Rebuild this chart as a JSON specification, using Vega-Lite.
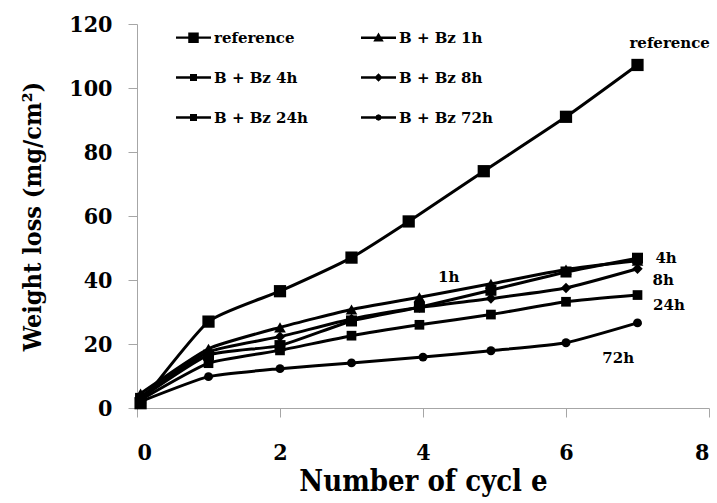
{
  "$schema": "https://vega.github.io/schema/vega-lite/v6.json",
  "autosize": {"type": "none"},
  "width": 572,
  "height": 384,
  "padding": {"left": 137, "top": 24, "right": 8, "bottom": 95},
  "background": "white",
  "config": {
    "view": {"stroke": null},
    "font": "DejaVu Serif",
    "axis": {
      "grid": false,
      "domainColor": "#a6a6a6",
      "tickColor": "#a6a6a6",
      "tickSize": 9,
      "labelFont": "DejaVu Serif Condensed",
      "labelFontWeight": "bold",
      "labelFontSize": 23,
      "labelColor": "black",
      "titleFont": "DejaVu Serif Condensed",
      "titleFontWeight": "bold",
      "titleColor": "black"
    }
  },
  "datasets": {
    "main": [
      {"series": "reference", "cycle": 0.05, "loss": 1.5},
      {"series": "reference", "cycle": 1, "loss": 27},
      {"series": "reference", "cycle": 2, "loss": 36.5},
      {"series": "reference", "cycle": 3, "loss": 47},
      {"series": "reference", "cycle": 3.8, "loss": 58.3},
      {"series": "reference", "cycle": 4.85, "loss": 74},
      {"series": "reference", "cycle": 6, "loss": 91},
      {"series": "reference", "cycle": 7, "loss": 107.2},
      {"series": "B + Bz 1h", "cycle": 0.05, "loss": 4.5},
      {"series": "B + Bz 1h", "cycle": 1, "loss": 18.5},
      {"series": "B + Bz 1h", "cycle": 2, "loss": 25.2},
      {"series": "B + Bz 1h", "cycle": 3, "loss": 30.8},
      {"series": "B + Bz 1h", "cycle": 3.95, "loss": 34.6},
      {"series": "B + Bz 1h", "cycle": 4.95, "loss": 38.8},
      {"series": "B + Bz 1h", "cycle": 6, "loss": 43.3},
      {"series": "B + Bz 1h", "cycle": 7, "loss": 46},
      {"series": "B + Bz 4h", "cycle": 0.05, "loss": 3},
      {"series": "B + Bz 4h", "cycle": 1, "loss": 16.5},
      {"series": "B + Bz 4h", "cycle": 2, "loss": 19.5},
      {"series": "B + Bz 4h", "cycle": 3, "loss": 27.2},
      {"series": "B + Bz 4h", "cycle": 3.95, "loss": 31.5},
      {"series": "B + Bz 4h", "cycle": 4.95, "loss": 36.8},
      {"series": "B + Bz 4h", "cycle": 6, "loss": 42.5},
      {"series": "B + Bz 4h", "cycle": 7, "loss": 46.8},
      {"series": "B + Bz 8h", "cycle": 0.05, "loss": 3.5},
      {"series": "B + Bz 8h", "cycle": 1, "loss": 17.5},
      {"series": "B + Bz 8h", "cycle": 2, "loss": 22.3},
      {"series": "B + Bz 8h", "cycle": 3, "loss": 27.8},
      {"series": "B + Bz 8h", "cycle": 3.95, "loss": 31.4},
      {"series": "B + Bz 8h", "cycle": 4.95, "loss": 34.2},
      {"series": "B + Bz 8h", "cycle": 6, "loss": 37.5},
      {"series": "B + Bz 8h", "cycle": 7, "loss": 43.5},
      {"series": "B + Bz 24h", "cycle": 0.05, "loss": 2.5},
      {"series": "B + Bz 24h", "cycle": 1, "loss": 14},
      {"series": "B + Bz 24h", "cycle": 2, "loss": 18},
      {"series": "B + Bz 24h", "cycle": 3, "loss": 22.6},
      {"series": "B + Bz 24h", "cycle": 3.95, "loss": 26},
      {"series": "B + Bz 24h", "cycle": 4.95, "loss": 29.2},
      {"series": "B + Bz 24h", "cycle": 6, "loss": 33.2},
      {"series": "B + Bz 24h", "cycle": 7, "loss": 35.3},
      {"series": "B + Bz 72h", "cycle": 0.05, "loss": 2},
      {"series": "B + Bz 72h", "cycle": 1, "loss": 9.8},
      {"series": "B + Bz 72h", "cycle": 2, "loss": 12.3},
      {"series": "B + Bz 72h", "cycle": 3, "loss": 14.1},
      {"series": "B + Bz 72h", "cycle": 4, "loss": 15.9},
      {"series": "B + Bz 72h", "cycle": 4.95, "loss": 17.9},
      {"series": "B + Bz 72h", "cycle": 6, "loss": 20.4},
      {"series": "B + Bz 72h", "cycle": 7, "loss": 26.6}
    ],
    "labels": [
      {"text": "reference", "cycle": 7.45, "loss": 114},
      {"text": "4h", "cycle": 7.4, "loss": 46.9},
      {"text": "8h", "cycle": 7.36, "loss": 40},
      {"text": "24h", "cycle": 7.44, "loss": 32.2},
      {"text": "72h", "cycle": 6.73, "loss": 15.6},
      {"text": "1h", "cycle": 4.36, "loss": 40.9}
    ]
  },
  "resolve": {"scale": {"shape": "independent", "size": "independent"}},
  "layer": [
    {
      "data": {"name": "main"},
      "mark": {"type": "line", "interpolate": "cardinal", "tension": 0.5, "color": "black", "strokeWidth": 3},
      "encoding": {
        "x": {"field": "cycle", "type": "quantitative", "scale": {"domain": [0, 8]}, "axis": {"values": [0, 2, 4, 6, 8], "format": "d", "title": "Number of cycl e", "titleFontSize": 29, "labelPadding": 24, "titlePadding": 3}},
        "y": {"field": "loss", "type": "quantitative", "scale": {"domain": [0, 120]}, "axis": {"values": [0, 20, 40, 60, 80, 100, 120], "format": "d", "title": "Weight loss (mg/cm²)", "titleFontSize": 25, "labelPadding": 16, "titlePadding": 23}},
        "detail": {"field": "series"}
      }
    },
    {
      "data": {"name": "main"},
      "mark": {"type": "point", "filled": true, "color": "black", "opacity": 1},
      "encoding": {
        "x": {"field": "cycle", "type": "quantitative"},
        "y": {"field": "loss", "type": "quantitative"},
        "shape": {"field": "series", "type": "nominal", "legend": null,
          "scale": {"domain": ["reference", "B + Bz 1h", "B + Bz 4h", "B + Bz 8h", "B + Bz 24h", "B + Bz 72h"],
                    "range": ["square", "triangle-up", "square", "diamond", "square", "circle"]}},
        "size": {"field": "series", "type": "nominal", "legend": null,
          "scale": {"domain": ["reference", "B + Bz 1h", "B + Bz 4h", "B + Bz 8h", "B + Bz 24h", "B + Bz 72h"],
                    "range": [150, 80, 70, 60, 70, 60]}}
      }
    },
    {
      "data": {"name": "main"},
      "transform": [{"filter": "datum.cycle == 7"}],
      "mark": {"type": "point", "filled": true, "color": "black", "opacity": 0, "size": 1225},
      "encoding": {
        "x": {"field": "cycle", "type": "quantitative"},
        "y": {"field": "loss", "type": "quantitative"},
        "shape": {"field": "series", "type": "nominal",
          "scale": {"domain": ["reference", "B + Bz 1h", "B + Bz 4h", "B + Bz 8h", "B + Bz 24h", "B + Bz 72h"],
                    "range": [
                      "M-1,-0.07L1,-0.07L1,0.07L-1,0.07ZM-0.3,-0.3L0.3,-0.3L0.3,0.3L-0.3,0.3Z",
                      "M-1,-0.07L1,-0.07L1,0.07L-1,0.07ZM0,-0.3L0.3,0.22L-0.3,0.22Z",
                      "M-1,-0.07L1,-0.07L1,0.07L-1,0.07ZM-0.2,-0.2L0.2,-0.2L0.2,0.2L-0.2,0.2Z",
                      "M-1,-0.07L1,-0.07L1,0.07L-1,0.07ZM0,-0.24L0.24,0L0,0.24L-0.24,0Z",
                      "M-1,-0.07L1,-0.07L1,0.07L-1,0.07ZM-0.2,-0.2L0.2,-0.2L0.2,0.2L-0.2,0.2Z",
                      "M-1,-0.07L1,-0.07L1,0.07L-1,0.07ZM0,-0.19L0.13,-0.13L0.19,0L0.13,0.13L0,0.19L-0.13,0.13L-0.19,0L-0.13,-0.13Z"
                    ]},
          "legend": {
            "title": null,
            "orient": "none",
            "direction": "horizontal",
            "legendX": 38,
            "legendY": -5,
            "columns": 2,
            "columnPadding": 50,
            "rowPadding": 13,
            "gridAlign": "all",
            "symbolSize": 1225,
            "labelFont": "DejaVu Serif",
            "labelFontWeight": "bold",
            "labelFontSize": 15,
            "labelColor": "black",
            "labelOffset": 2,
            "labelLimit": 300,
            "encode": {
              "symbols": {
                "update": {
                  "fill": {"value": "black"},
                  "stroke": {"value": "black"},
                  "strokeWidth": {"value": 0.5},
                  "opacity": {"value": 1},
                  "fillOpacity": {"value": 1}
                }
              }
            }
          }
        }
      }
    },
    {
      "data": {"name": "labels"},
      "mark": {"type": "text", "font": "DejaVu Serif", "fontWeight": "bold", "fontSize": 15, "color": "black", "align": "center", "baseline": "middle"},
      "encoding": {
        "x": {"field": "cycle", "type": "quantitative"},
        "y": {"field": "loss", "type": "quantitative"},
        "text": {"field": "text"}
      }
    }
  ]
}
